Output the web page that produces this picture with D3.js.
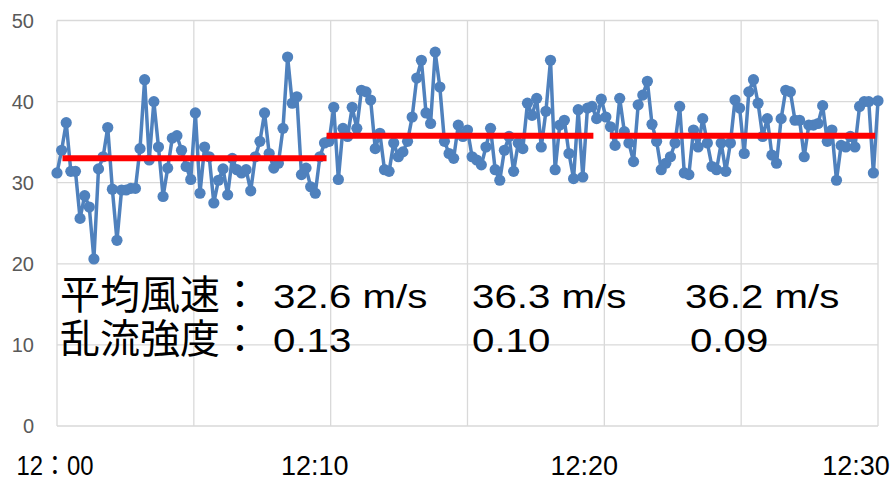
<!DOCTYPE html>
<html><head><meta charset="utf-8">
<script src="https://cdn.jsdelivr.net/npm/d3@7"></script>
<style>body{margin:0;background:#fff}svg{display:block}</style>
</head><body>
<svg id="c" width="895" height="478"></svg>
<script>
// wind speed samples (m/s), 12:00 – 12:30
const speeds = [
31.2,34.0,37.4,31.4,31.4,25.6,28.4,27.0,20.6,31.7,33.2,36.8,29.2,22.9,29.1,29.1,29.3,29.3,34.2,42.7,
32.8,40.0,34.4,28.3,31.8,35.5,35.8,34.0,32.0,30.4,38.6,28.7,34.4,33.2,27.5,30.3,31.7,28.5,33.0,31.6,
31.2,31.6,29.0,33.2,35.1,38.6,33.6,31.8,32.4,36.7,45.5,39.8,40.6,31.0,
31.8,29.5,28.7,33.2,34.9,35.1,39.3,30.4,36.7,35.7,39.3,36.7,41.4,41.2,40.2,34.2,36.1,31.6,31.4,34.9,
33.2,33.8,35.1,38.1,42.9,45.1,38.6,37.3,46.1,41.8,35.1,33.6,33.0,37.1,35.7,36.5,33.2,32.8,32.2,34.4,
36.7,31.6,30.3,34.0,35.7,31.4,34.9,34.2,39.8,38.3,40.4,34.4,38.8,45.1,31.6,37.1,37.7,33.6,30.5,39.0,
30.7,39.2,39.4,37.9,40.3,38.1,36.9,34.6,40.4,36.3,34.9,32.6,39.6,40.8,42.5,37.2,35.1,31.6,32.4,33.2,
34.9,39.4,31.2,31.0,36.5,34.4,37.9,34.9,32.0,31.6,34.9,31.4,34.9,40.2,39.2,33.6,41.2,42.7,39.8,35.7,
37.9,33.4,32.4,37.9,41.4,41.2,37.7,37.7,33.2,37.1,37.1,37.3,39.5,35.1,36.5,30.3,34.6,34.4,35.7,34.4,
39.4,40.0,40.0,31.2,40.1
];
// 10-minute mean segments (minutes from 12:00)
const segStart = [0.2, 9.85, 20.2];
const segEnd   = [9.85, 19.6, 29.9];
const segMean  = [33.0, 35.8, 35.8];
// annotation
const meanLabel = "平均風速：";
const turbLabel = "乱流強度：";
const meanTexts = ["32.6 m/s", "36.3 m/s", "36.2 m/s"];
const turbTexts = ["0.13", "0.10", "0.09"];
// axes
const yTicks = [0, 10, 20, 30, 40, 50];
const xGrid = [0, 5, 10, 15, 20, 25, 30];
const xTickMin = [0, 10, 20, 30];
const xTickLabels = ["12：00", "12:10", "12:20", "12:30"];

// layout (pixels)
const xLabelDx = [-2, -16, -20, -22];
const valX = [273, 472, 685];
const turbDx = [0, 0, 5];
const latinStretch = 1.22;

const svg = d3.select("#c");
const x = d3.scaleLinear().domain([0, 30]).range([57, 878]);
const y = d3.scaleLinear().domain([0, 50]).range([426, 20.5]);
const n = speeds.length;
const pts = speeds.map((v, i) => ({t: i * 30 / (n - 1), v}));

const grid = svg.append("g").attr("stroke", "#d9d9d9").attr("stroke-width", 1.3);
grid.selectAll(".h").data(yTicks).join("line")
  .attr("x1", x(0)).attr("x2", x(30)).attr("y1", d => y(d)).attr("y2", d => y(d));
grid.selectAll(".v").data(xGrid).join("line")
  .attr("x1", d => x(d)).attr("x2", d => x(d)).attr("y1", y(50)).attr("y2", y(0));

svg.append("g").selectAll("text").data(yTicks).join("text")
  .attr("x", 34).attr("y", d => y(d) + 7).attr("text-anchor", "end")
  .attr("font-family", "Liberation Sans, Arial, sans-serif").attr("font-size", 20)
  .attr("fill", "#595959").text(d => d);

svg.append("g").selectAll("text").data(xTickMin).join("text")
  .attr("x", (d, i) => x(d) + xLabelDx[i]).attr("y", 475).attr("text-anchor", "middle")
  .attr("font-family", "Liberation Sans, Arial, 'Noto Sans CJK JP', sans-serif").attr("font-size", 27)
  .attr("fill", "#000")
  .each(function(d, i) { if (i === 0) d3.select(this).attr("textLength", 77).attr("lengthAdjust", "spacingAndGlyphs"); })
  .text((d, i) => xTickLabels[i]);

const line = d3.line().x(d => x(d.t)).y(d => y(d.v));
svg.append("path").datum(pts).attr("d", line).attr("fill", "none")
  .attr("stroke", "#4f81bd").attr("stroke-width", 3.5).attr("stroke-linejoin", "round");
svg.append("g").selectAll("circle").data(pts).join("circle")
  .attr("cx", d => x(d.t)).attr("cy", d => y(d.v)).attr("r", 5.6).attr("fill", "#4f81bd");

svg.append("g").selectAll("line").data(segMean).join("line")
  .attr("x1", (d, i) => x(segStart[i])).attr("x2", (d, i) => x(segEnd[i]))
  .attr("y1", d => y(d)).attr("y2", d => y(d))
  .attr("stroke", "#ff0000").attr("stroke-width", 6);

const tf = "'Noto Sans CJK JP', sans-serif";
const lf = "Liberation Sans, Arial, sans-serif";
svg.append("text").attr("x", 60).attr("y", 309).attr("font-family", tf).attr("font-size", 40).text(meanLabel);
svg.append("text").attr("x", 60).attr("y", 353).attr("font-family", tf).attr("font-size", 40).text(turbLabel);
svg.append("g").selectAll("text").data(meanTexts).join("text")
  .attr("transform", (d, i) => `translate(${valX[i]},308) scale(${latinStretch},1)`)
  .attr("font-family", lf).attr("font-size", 33).text(d => d);
svg.append("g").selectAll("text").data(turbTexts).join("text")
  .attr("transform", (d, i) => `translate(${valX[i] + turbDx[i]},352) scale(${latinStretch},1)`)
  .attr("font-family", lf).attr("font-size", 33).text(d => d);
</script>
</body></html>
